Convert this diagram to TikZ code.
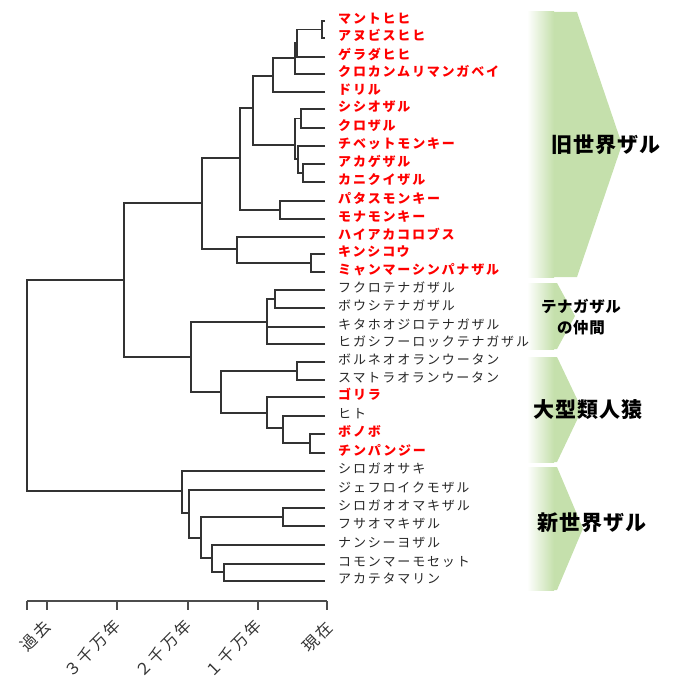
\documentclass[tikz,border=0pt]{standalone}
\usepackage{fontspec}
\newfontfamily\jp[LetterSpace=14]{Noto Sans CJK JP}
\newfontfamily\jpt[LetterSpace=4]{Noto Sans CJK JP}
\newfontfamily\jpa[LetterSpace=16]{Noto Sans CJK JP}
\definecolor{treegray}{HTML}{333333}
\definecolor{apegreen}{RGB}{197,224,172}
\tikzset{
  br/.style={line width=1.6pt, draw=treegray},
  lf/.style={anchor=west, inner sep=0pt, font=\jp\fontsize{13}{13}\selectfont, text=black!85},
  lfr/.style={anchor=west, inner sep=0pt, font=\jp\bfseries\fontsize{13}{13}\selectfont, text=red},
  grparrow/.style={fill=apegreen, draw=none},
  ttl/.style={font=\jpt\bfseries\fontsize{21}{22}\selectfont, align=center, inner sep=0pt},
  ttls/.style={font=\jpt\bfseries\fontsize{15.5}{21}\selectfont, align=center, inner sep=0pt},
  axl/.style={anchor=east, rotate=45, inner sep=0pt, font=\jpa\fontsize{16}{16}\selectfont, text=black!80},
  axis/.style={line width=1.3pt, draw=black!70}
}
\begin{document}
\begin{tikzpicture}[x=1pt,y=-1pt]
\useasboundingbox (0,0) rectangle (680,692);

% ---- group arrows ----
\foreach \nm/\top/\bot/\tip in {ow/12/277/622, ha/283/349/575, ga/357/462/582, nw/467/590/583}{
  \pgfmathsetmacro\mid{(\top+\bot)/2}
  \pgfmathsetmacro\cx{ifthenelse(\tip>600,577,557)}
  \fill[grparrow] (527,\top) -- (\cx,\top) -- (\tip,\mid) -- (\cx,\bot) -- (527,\bot) -- cycle;
  \shade[left color=white, right color=apegreen] (527,\top) rectangle (554,\bot);
}
\node[ttl] (gow) at (606,145) {旧世界ザル};
\node[ttls] (gha) at (581,317) {テナガザル\\の仲間};
\node[ttl] (gga) at (588,410) {大型類人猿};
\node[ttl] (gnw) at (592,523) {新世界ザル};

% ---- leaves ----
\foreach \i/\y/\t/\s in {
 1/21/マントヒヒ/lfr, 2/38/アヌビスヒヒ/lfr, 3/57/ゲラダヒヒ/lfr,
 4/74/クロカンムリマンガベイ/lfr, 5/92/ドリル/lfr, 6/109/シシオザル/lfr,
 7/128/クロザル/lfr, 8/146/チベットモンキー/lfr, 9/164/アカゲザル/lfr,
 10/182/カニクイザル/lfr, 11/201/パタスモンキー/lfr, 12/219/モナモンキー/lfr,
 13/237/ハイアカコロブス/lfr, 14/254/キンシコウ/lfr, 15/272/ミャンマーシンパナザル/lfr,
 16/290/フクロテナガザル/lf, 17/308/ボウシテナガザル/lf, 18/327/キタホオジロテナガザル/lf,
 19/344/ヒガシフーロックテナガザル/lf, 20/362/ボルネオオランウータン/lf,
 21/380/スマトラオランウータン/lf, 22/397/ゴリラ/lfr, 23/416/ヒト/lf,
 24/434/ボノボ/lfr, 25/453/チンパンジー/lfr, 26/471/シロガオサキ/lf,
 27/490/ジェフロイクモザル/lf, 28/508/シロガオオマキザル/lf, 29/526/フサオマキザル/lf,
 30/545/ナンシーヨザル/lf, 31/564/コモンマーモセット/lf, 32/581/アカテタマリン/lf}{
  \coordinate (e\i) at (325,\y);
  \node[\s] (t\i) at (338,\y-2.5) {\t};
}

% ---- internal nodes ----
\coordinate (n1) at (322,29.5);
\coordinate (n2a) at (297,43);
\coordinate (n2) at (295,58);
\coordinate (n3) at (273,76);
\coordinate (m1) at (301,118.5);
\coordinate (m2) at (303,173);
\coordinate (m3) at (298,159);
\coordinate (m4) at (295,145);
\coordinate (n4) at (253,108);
\coordinate (n5) at (280,210);
\coordinate (n6) at (240,158);
\coordinate (n7) at (311,263);
\coordinate (n8) at (237,249);
\coordinate (n9) at (202,203);
\coordinate (a1) at (275,299);
\coordinate (a2) at (267,322);
\coordinate (a3) at (297,371);
\coordinate (a4) at (310,443);
\coordinate (a5) at (283,428);
\coordinate (a6) at (267,413);
\coordinate (a7) at (221,392);
\coordinate (a8) at (191,357);
\coordinate (c1) at (124,280);
\coordinate (w1) at (283,517);
\coordinate (w2) at (224,572);
\coordinate (w3) at (212,558);
\coordinate (w4) at (201,538);
\coordinate (w5) at (189,513);
\coordinate (w6) at (182,491);
\coordinate (root) at (27,385);

\foreach \c/\p in {e1/n1, e2/n1, n1/n2a, e3/n2a, n2a/n2, e4/n2, n2/n3, e5/n3,
  e6/m1, e7/m1, e9/m2, e10/m2, e8/m3, m2/m3, m1/m4, m3/m4, n3/n4, m4/n4,
  e11/n5, e12/n5, n4/n6, n5/n6, e14/n7, e15/n7, e13/n8, n7/n8, n6/n9, n8/n9,
  e16/a1, e17/a1, a1/a2, e18/a2, e19/a2, e20/a3, e21/a3, e24/a4, e25/a4,
  e23/a5, a4/a5, e22/a6, a5/a6, a3/a7, a6/a7, a2/a8, a7/a8, n9/c1, a8/c1,
  e28/w1, e29/w1, e31/w2, e32/w2, e30/w3, w2/w3, w1/w4, w3/w4, e27/w5, w4/w5,
  e26/w6, w5/w6, c1/root, w6/root}{
  \draw[br] (\c) -| (\p);
}

% ---- time axis ----
\coordinate (ax0) at (27,601);
\coordinate (ax5) at (327,601);
\draw[axis] (ax0) -- (ax5);
\foreach \k/\x in {0/27, 1/47, 2/117, 3/188, 4/258, 5/327}{
  \coordinate (tk\k) at (\x,601);
  \draw[axis] (tk\k) -- ++(0,9);
}
\node[axl] (lb1) at (48,624) {過去};
\node[axl] (lb2) at (118,623) {３千万年};
\node[axl] (lb3) at (189,623) {２千万年};
\node[axl] (lb4) at (259,623) {１千万年};
\node[axl] (lb5) at (330,625) {現在};
\end{tikzpicture}
\end{document}
